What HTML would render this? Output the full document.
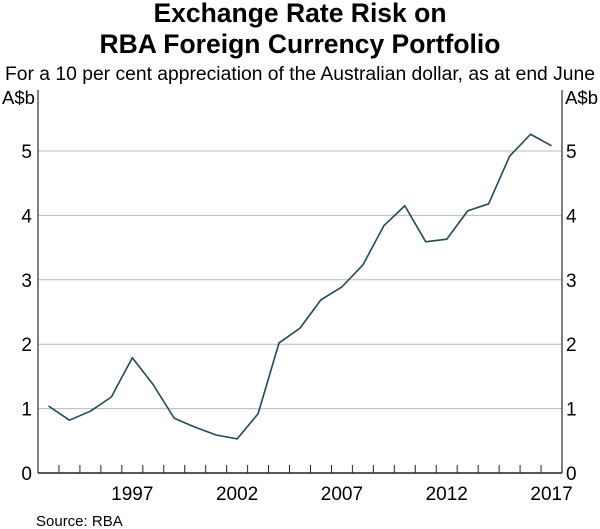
<!DOCTYPE html>
<html><head><meta charset="utf-8"><style>
html,body{margin:0;padding:0;background:#fff;}
svg{display:block;font-family:"Liberation Sans",Arial,sans-serif;}
</style></head><body>
<svg id="chart" width="600" height="529" viewBox="0 0 600 529">
<text x="300" y="22" text-anchor="middle" font-size="26.5" font-weight="bold">Exchange Rate Risk on</text>
<text x="300" y="53" text-anchor="middle" font-size="26.5" font-weight="bold">RBA Foreign Currency Portfolio</text>
<text x="300" y="80" text-anchor="middle" font-size="19" textLength="590" lengthAdjust="spacingAndGlyphs">For a 10 per cent appreciation of the Australian dollar, as at end June</text>
<text x="2" y="104" font-size="18.5">A$b</text>
<text x="598" y="104" text-anchor="end" font-size="18.5">A$b</text>
<g id="grid"></g>
<g id="axes"></g>
<g id="series"></g>
<text x="36" y="526" font-size="15">Source:   RBA</text>
</svg>
<script>
const years = [1993,1994,1995,1996,1997,1998,1999,2000,2001,2002,2003,2004,2005,2006,2007,2008,2009,2010,2011,2012,2013,2014,2015,2016,2017];
const values = [1.04,0.82,0.96,1.18,1.79,1.37,0.85,0.71,0.59,0.53,0.92,2.02,2.25,2.69,2.89,3.23,3.84,4.15,3.59,3.63,4.07,4.18,4.92,5.26,5.08];
const yTicks = [0,1,2,3,4,5];
const xLabels = [1997,2002,2007,2012,2017];

const L=38,R=562,B=473,T=151;
const firstYear=1993,nYears=25;
const yw=(R-L)/nYears;
function xStart(yr){return L+(yr-firstYear)*yw;}
function x(yr){return xStart(yr)+yw/2;}
function y(v){return B-v*(B-T)/5;}
const NS="http://www.w3.org/2000/svg";
function mk(tag,attrs,parent){const e=document.createElementNS(NS,tag);for(const k in attrs)e.setAttribute(k,attrs[k]);parent.appendChild(e);return e;}
const grid=document.getElementById('grid'),axes=document.getElementById('axes'),series=document.getElementById('series');
yTicks.forEach(v=>{
  if(v>0){const g=mk('line',{x1:L,x2:R,y1:y(v),y2:y(v),stroke:'#b8b8b8','stroke-width':1},grid);
  
  }
  const tl=mk('text',{x:L-6,y:y(v)+7,'text-anchor':'end','font-size':19},axes);tl.textContent=v;
  
  
  const tr=mk('text',{x:R+4,y:y(v)+7,'font-size':19},axes);tr.textContent=v;
  
  
});
const la=mk('line',{x1:L,x2:L,y1:90,y2:B,stroke:'#555','stroke-width':1.5},axes);


const ra=mk('line',{x1:R,x2:R,y1:90,y2:B,stroke:'#555','stroke-width':1.5},axes);


const xa=mk('line',{x1:L,x2:R,y1:B,y2:B,stroke:'#222','stroke-width':1.5},axes);


for(let i=1;i<nYears;i++){
  const t=mk('line',{x1:L+i*yw,x2:L+i*yw,y1:B-8,y2:B,stroke:'#222','stroke-width':1},axes);
  
  
}
xLabels.forEach(yr=>{
  const t=mk('text',{x:x(yr),y:B+27,'text-anchor':'middle','font-size':19},axes);t.textContent=yr;
  
  
});
const p=mk('polyline',{points:years.map((yr,i)=>x(yr)+','+y(values[i])).join(' '),fill:'none',stroke:'#1f4a5a','stroke-width':1.6,'stroke-linejoin':'round'},series);


</script>
</body></html>
